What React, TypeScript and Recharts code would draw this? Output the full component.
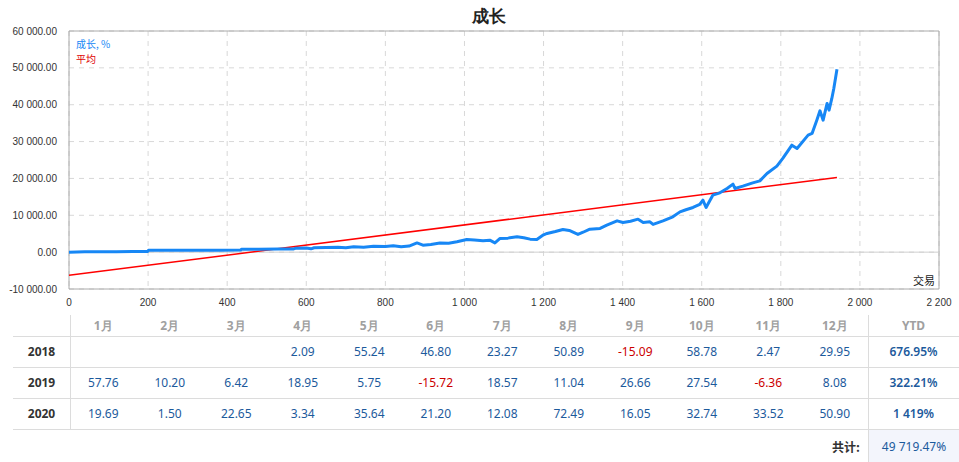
import React from 'react';
import { LineChart, Line, XAxis, YAxis, CartesianGrid, ReferenceLine, ReferenceArea } from 'recharts';

// growth curve (trade number -> growth %)
const trades = [
  0, 40, 80, 120, 160, 199, 201, 260, 320, 380, 434, 436, 480, 530, 568, 572, 600, 612, 620, 650,
  680, 700, 720, 745, 770, 800, 820, 840, 860, 880, 895, 915, 938, 960, 981, 1006, 1025, 1047, 1064, 1077,
  1090, 1110, 1133, 1150, 1166, 1183, 1200, 1209, 1230, 1249, 1265, 1287, 1300, 1317, 1343, 1360, 1386, 1401, 1420, 1439,
  1452, 1469, 1477, 1502, 1527, 1545, 1560, 1578, 1595, 1603, 1611, 1628, 1646, 1664, 1679, 1684, 1704, 1729, 1747, 1765,
  1790, 1805, 1828, 1841, 1869, 1879, 1891, 1899, 1907, 1917, 1922, 1929, 1934, 1942
];
const growth = [
  0, 80, 120, 100, 150, 180, 480, 500, 520, 540, 560, 780, 800, 820, 850, 1050, 1150, 900, 1200, 1250,
  1300, 1200, 1450, 1350, 1600, 1500, 1750, 1440, 1650, 2500, 1900, 2100, 2500, 2400, 2800, 3440, 3300, 3070, 3250, 2520,
  3710, 3800, 4150, 3900, 3530, 3440, 4700, 5070, 5600, 6160, 5900, 4800, 5400, 6240, 6430, 7330, 8490, 8060, 8400, 8950,
  8060, 8240, 7510, 8490, 9580, 10930, 11500, 12120, 12940, 14100, 12120, 15460, 16090, 17280, 18450, 17280, 17900, 18800, 19340, 21350,
  23330, 25420, 29030, 28130, 31740, 32200, 35810, 38340, 35810, 40340, 38520, 41700, 44400, 49600
];

// average (trend) line end points
const avgTrades = [0, 1942];
const avgValues = [-6300, 20270];

const xTicks = [0, 200, 400, 600, 800, 1000, 1200, 1400, 1600, 1800, 2000, 2200];
const yTicks = [-10000, 0, 10000, 20000, 30000, 40000, 50000, 60000];

const months = ['1月', '2月', '3月', '4月', '5月', '6月', '7月', '8月', '9月', '10月', '11月', '12月'];
const years = ['2018', '2019', '2020'];
const monthly2018 = [null, null, null, 2.09, 55.24, 46.8, 23.27, 50.89, -15.09, 58.78, 2.47, 29.95];
const monthly2019 = [57.76, 10.2, 6.42, 18.95, 5.75, -15.72, 18.57, 11.04, 26.66, 27.54, -6.36, 8.08];
const monthly2020 = [19.69, 1.5, 22.65, 3.34, 35.64, 21.2, 12.08, 72.49, 16.05, 32.74, 33.52, 50.9];
const ytd = ['676.95%', '322.21%', '1 419%'];
const total = '49 719.47%';

const growthData = trades.map((n, i) => ({ n, v: growth[i] }));
const avgData = avgTrades.map((n, i) => ({ n, v: avgValues[i] }));
const monthlyRows = [monthly2018, monthly2019, monthly2020];

// thousands separated by a non-breaking space so tick text never wraps
const spaced = (s: string) => s.replace(/\B(?=(\d{3})+(?!\d))/g, '\u00a0');
const fmtY = (v: number) => {
  const neg = v < 0;
  const [i, d] = Math.abs(v).toFixed(2).split('.');
  return (neg ? '-' : '') + spaced(i) + '.' + d;
};
const fmtX = (v: number) => spaced(String(v));

const axisFont = { fontFamily: 'Liberation Sans, Arial, sans-serif', fontSize: 10, fill: '#333' };
const line = '1px solid #dcdcdc';
const blue = '#1c5a9c';

const colW = 66.5;

function Cell({ left, top, width, height, children, style }: any) {
  return (
    <div
      style={{
        position: 'absolute', left, top, width, height,
        display: 'flex', alignItems: 'center', justifyContent: 'center',
        ...style
      }}
    >
      {children}
    </div>
  );
}

export default function App() {
  const tableTop = 315;
  const headerH = 21;
  const rowH = 31;

  return (
    <div style={{ position: 'absolute', left: 0, top: 0, width: 959, height: 462, background: '#fff', fontFamily: 'Noto Sans, sans-serif', overflow: 'hidden' }}>
      <div style={{ position: 'absolute', left: 0, width: 978, top: 4, textAlign: 'center', fontSize: 17, fontWeight: 'bold', color: '#222' }}>
        成长
      </div>

      <LineChart width={959} height={310} margin={{ top: 31, right: 20, bottom: 0, left: 0 }}>
        <CartesianGrid stroke="#d8d8d8" strokeDasharray="5 5" />
        <XAxis
          dataKey="n"
          type="number"
          domain={[0, 2200]}
          ticks={xTicks}
          tickFormatter={fmtX}
          tickLine={false}
          axisLine={false}
          height={21}
          tick={axisFont}
          tickMargin={4}
          allowDataOverflow
        />
        <YAxis
          type="number"
          domain={[-10000, 60000]}
          ticks={yTicks}
          tickFormatter={fmtY}
          tickLine={false}
          axisLine={false}
          width={69}
          tick={axisFont}
          tickMargin={6}
          interval={0}
        />
        <ReferenceLine y={0} stroke="#cfcfcf" />
        <ReferenceArea x1={0} x2={2200} y1={-10000} y2={60000} fill="none" stroke="#aaaaaa" strokeWidth={1} />
        <Line data={avgData} dataKey="v" type="linear" stroke="#ff0000" strokeWidth={1.5} dot={false} isAnimationActive={false} />
        <Line data={growthData} dataKey="v" type="linear" stroke="#1787f5" strokeWidth={3} dot={false} strokeLinejoin="round" isAnimationActive={false} />
      </LineChart>

      <div style={{ position: 'absolute', left: 76, top: 36, fontSize: 10, color: '#1787f5', fontFamily: 'Noto Sans CJK SC, sans-serif' }}>成长, %</div>
      <div style={{ position: 'absolute', left: 76, top: 51, fontSize: 10, color: '#e00000', fontFamily: 'Noto Sans CJK SC, sans-serif' }}>平均</div>
      <div style={{ position: 'absolute', left: 913, top: 272, fontSize: 11, color: '#222', fontFamily: 'Noto Sans CJK SC, sans-serif' }}>交易</div>

      {/* monthly table */}
      <div style={{ position: 'absolute', left: 70, top: tableTop, height: headerH + rowH * 3, borderLeft: line }} />
      <div style={{ position: 'absolute', left: 868, top: tableTop, height: headerH + rowH * 3 + 33, borderLeft: line }} />
      {[0, 1, 2, 3].map((k) => (
        <div key={k} style={{ position: 'absolute', left: 13, width: 946, top: tableTop + headerH + rowH * k, borderTop: line }} />
      ))}

      {months.map((m, j) => (
        <Cell key={m} left={70 + j * colW} top={tableTop} width={colW} height={headerH} style={{ fontSize: 12, fontWeight: 'bold', color: '#a0a0a0' }}>
          {m}
        </Cell>
      ))}
      <Cell left={868} top={tableTop} width={91} height={headerH} style={{ fontSize: 12, fontWeight: 'bold', color: '#a0a0a0' }}>
        YTD
      </Cell>

      {years.map((y, r) => {
        const top = tableTop + headerH + rowH * r;
        return (
          <React.Fragment key={y}>
            <Cell left={13} top={top} width={57} height={rowH} style={{ fontSize: 12, fontWeight: 'bold', color: '#333' }}>
              {y}
            </Cell>
            {monthlyRows[r].map((v, j) =>
              v === null ? null : (
                <Cell key={j} left={70 + j * colW} top={top} width={colW} height={rowH} style={{ fontSize: 12, color: v < 0 ? '#cc0000' : blue }}>
                  {v.toFixed(2)}
                </Cell>
              )
            )}
            <Cell left={868} top={top} width={91} height={rowH} style={{ fontSize: 12, fontWeight: 600, color: blue }}>
              {ytd[r]}
            </Cell>
          </React.Fragment>
        );
      })}

      <Cell left={800} top={430} width={60} height={32} style={{ justifyContent: 'flex-end', fontSize: 12, fontWeight: 'bold', color: '#333', fontFamily: 'Noto Sans CJK SC, sans-serif' }}>
        共计:
      </Cell>
      <Cell left={869} top={430} width={90} height={32} style={{ background: '#f3f5fc', fontSize: 12, color: blue }}>
        {total}
      </Cell>
    </div>
  );
}
